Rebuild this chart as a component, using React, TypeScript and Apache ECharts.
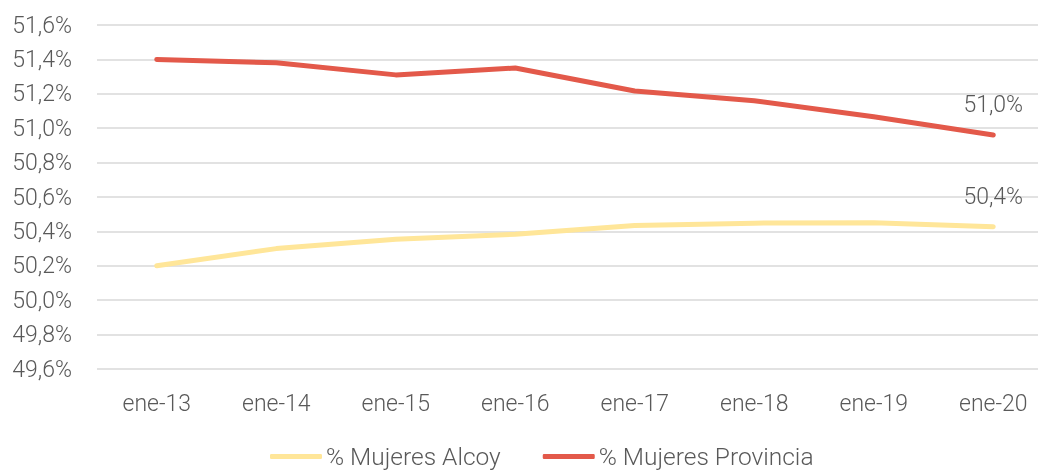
import React, { useEffect, useRef } from "react";
import * as echarts from "echarts";

const categories = ["ene-13", "ene-14", "ene-15", "ene-16", "ene-17", "ene-18", "ene-19", "ene-20"];
const alcoy = [50.2, 50.3, 50.355, 50.383, 50.434, 50.448, 50.45, 50.427];
const provincia = [51.4, 51.38, 51.31, 51.35, 51.216, 51.16, 51.067, 50.96];
const seriesNames = ["% Mujeres Alcoy", "% Mujeres Provincia"];

const fmt = (v: number) => v.toFixed(1).replace(".", ",") + "%";
const FONT = "Roboto";
const FS = 23;

export default function App() {
  const ref = useRef<HTMLDivElement>(null);
  useEffect(() => {
    if (!ref.current) return;
    const chart = echarts.init(ref.current, null, { renderer: "svg" });
    const lastLabel = (data: number[]) =>
      data.map((v, i) =>
        i === data.length - 1
          ? {
              value: v,
              label: {
                show: true,
                position: "top",
                distance: 19,
                formatter: (p: any) => fmt(p.value),
                color: "#595959",
                fontSize: FS,
                fontFamily: FONT,
                fontWeight: 300,
              },
            }
          : v
      );
    chart.setOption({
      animation: false,
      grid: { left: 97, right: 0, top: 25, bottom: 102, containLabel: false },
      legend: {
        top: 444,
        left: 270,
        padding: 0,
        itemWidth: 52,
        itemHeight: 5,
        itemGap: 42,
        icon: "roundRect",
        textStyle: {
          color: "#595959",
          fontSize: 24.5,
          lineHeight: 22,
          fontFamily: FONT,
          fontWeight: 300,
          padding: [0, 0, 0, -1],
        },
        data: seriesNames,
      },
      xAxis: {
        type: "category",
        data: categories,
        boundaryGap: true,
        axisLine: { show: false },
        axisTick: { show: false },
        axisLabel: { color: "#595959", fontSize: FS, fontFamily: FONT, fontWeight: 300, margin: 23 },
      },
      yAxis: {
        type: "value",
        min: 49.6,
        max: 51.6,
        interval: 0.2,
        axisLine: { show: false },
        axisTick: { show: false },
        splitLine: { lineStyle: { color: "#D9D9D9", width: 1.5 } },
        axisLabel: {
          color: "#595959",
          fontSize: FS,
          fontFamily: FONT,
          fontWeight: 300,
          margin: 25,
          formatter: (v: number) => fmt(v),
        },
      },
      series: [
        {
          name: seriesNames[0],
          type: "line",
          data: lastLabel(alcoy),
          showSymbol: true,
          symbol: "circle",
          symbolSize: 0.01,
          lineStyle: { color: "#FFE699", width: 5, cap: "round", join: "round" },
          itemStyle: { color: "#FFE699" },
        },
        {
          name: seriesNames[1],
          type: "line",
          data: lastLabel(provincia),
          showSymbol: true,
          symbol: "circle",
          symbolSize: 0.01,
          lineStyle: { color: "#E3594A", width: 5, cap: "round", join: "round" },
          itemStyle: { color: "#E3594A" },
        },
      ],
    });
    return () => chart.dispose();
  }, []);
  return (
    <div style={{ position: "fixed", left: 0, top: 0, width: 1038, height: 471, overflow: "hidden" }}>
      <div ref={ref} style={{ width: 1053, height: 471 }} />
    </div>
  );
}
